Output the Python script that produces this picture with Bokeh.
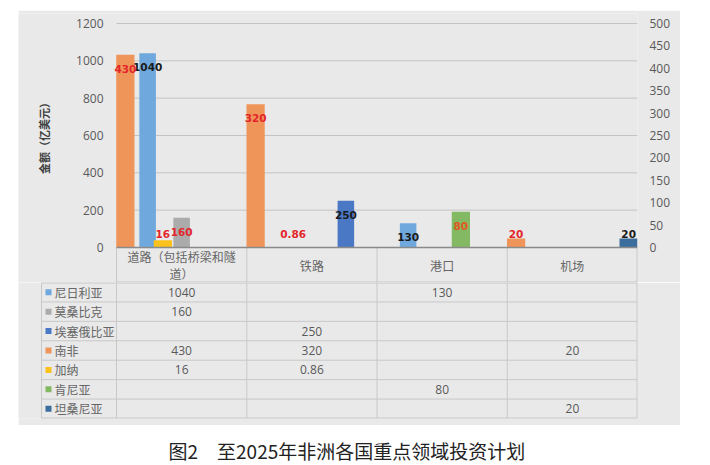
import math
from bokeh.plotting import figure
from bokeh.models import Range1d, LinearAxis, FixedTicker, ColumnDataSource, LabelSet
from bokeh.layouts import column
from bokeh.embed import file_html
from bokeh.resources import INLINE
from bokeh.core.properties import value

# ---------------- data ----------------
categories = ["道路（包括桥梁和隧道）", "铁路", "港口", "机场"]
countries = ["尼日利亚", "莫桑比克", "埃塞俄比亚", "南非", "加纳", "肯尼亚", "坦桑尼亚"]
nigeria = [1040, None, 130, None]
mozambique = [160, None, None, None]
ethiopia = [None, 250, None, None]
south_africa = [430, 320, None, 20]
ghana = [16, 0.86, None, None]
kenya = [None, None, 80, None]
tanzania = [None, None, None, 20]
left_ticks = [0, 200, 400, 600, 800, 1000, 1200]
right_ticks = [0, 50, 100, 150, 200, 250, 300, 350, 400, 450, 500]
y_title = "金额（亿美元）"
caption = "图2\u3000至2025年非洲各国重点领域投资计划"

series_values = [nigeria, mozambique, ethiopia, south_africa, ghana, kenya, tanzania]
# which axis each series uses (left = primary, right = secondary)
series_axis = ["left", "left", "left", "right", "right", "right", "right"]

# ---------------- style ----------------
bar_colors = ["#6fa8dc", "#ababab", "#4b78c4", "#f0955a", "#fbc21c", "#84b964", "#3b6e9c"]
label_colors = ["#1a1a1a", "#e3262b", "#1a1a1a", "#e3262b", "#e3262b", "#e2571e", "#1a1a1a"]
BG = "#e9e9e9"
GRID = "#c3c3c3"
LINE = "#c8c8c8"
TXT = "#595959"
CJK = "Noto Sans CJK SC"
NUMF = "Open Sans"

W = 662
RB = 43            # right border (right axis)
CHART_H = 224      # px for the value area
TOP_PAD = 10       # px of frame above the top tick
HEADER_H = 35      # px for the category header row
FRAME_W = 521      # px of the category area
LEG_W = 75         # px of legend column
AX_W = 98          # px left of category area
ncat = len(categories)
PPU = FRAME_W / ncat
XMIN = -AX_W / PPU

LMAX = left_ticks[-1]
RMAX = right_ticks[-1]
lmin = -HEADER_H * LMAX / CHART_H
rmin = -HEADER_H * RMAX / CHART_H
ltop = LMAX + TOP_PAD * LMAX / CHART_H
rtop = RMAX + TOP_PAD * RMAX / CHART_H

group_spacing = {"left": 0.261, "right": 0.288}
group_width = {"left": 0.127, "right": 0.14}


def fmt(v):
    return f"{v:g}"


def wrap(s, n=9):
    return s if len(s) <= n else s[:n] + "\n" + s[n:]


def base_fig(height, xr, yr, top_b=0, bottom_b=0, bg=BG):
    f = figure(width=W, height=height, x_range=xr, y_range=yr, output_backend="svg",
               toolbar_location=None, x_axis_location=None, y_axis_location=None,
               min_border_left=0, min_border_right=RB, min_border_top=top_b, min_border_bottom=bottom_b)
    f.background_fill_color = bg
    f.border_fill_color = bg
    f.outline_line_color = None
    f.grid.visible = False
    return f


# ---------------- chart figure ----------------
top = base_fig(272, Range1d(XMIN, ncat), Range1d(lmin, ltop), top_b=13 - TOP_PAD)
top.extra_y_ranges = {"right": Range1d(rmin, rtop)}

lax = LinearAxis(ticker=FixedTicker(ticks=left_ticks), fixed_location=0)
rax = LinearAxis(y_range_name="right", ticker=FixedTicker(ticks=right_ticks))
for ax, so in ((lax, 13), (rax, 12)):
    ax.axis_line_color = None
    ax.major_tick_line_color = None
    ax.minor_tick_line_color = None
    ax.major_tick_out = 0
    ax.major_tick_in = 0
    ax.major_label_standoff = so
    ax.major_label_text_font = NUMF
    ax.major_label_text_font_size = "12px"
    ax.major_label_text_color = TXT
top.add_layout(lax, "left")
top.add_layout(rax, "right")

# gridlines (left-axis ticks) across the category area
gt = left_ticks[1:]
top.segment(x0=[0] * len(gt), y0=gt, x1=[ncat] * len(gt), y1=gt, line_color=GRID, line_width=1)

# y title
top.text(x=[XMIN + 25 / PPU], y=[LMAX / 2], text=[y_title], angle=math.pi / 2,
         text_align="center", text_baseline="middle", text_font=value(CJK), text_font_size="11px",
         text_font_style="bold", text_color="#404040")

# header separators, header bottom line
top.segment(x0=list(range(ncat + 1)), y0=[lmin] * (ncat + 1), x1=list(range(ncat + 1)), y1=[0] * (ncat + 1),
            line_color=LINE, line_width=[1] * ncat + [2])
top.segment(x0=[0], y0=[lmin], x1=[ncat], y1=[lmin], line_color=LINE, line_width=2)

# bars + labels
for g in ["left", "right"]:
    members = [k for k, a in enumerate(series_axis) if a == g]
    n = len(members)
    lx, ly, lt_, lc, lo = [], [], [], [], []
    amax = LMAX if g == "left" else RMAX
    rng = "default" if g == "left" else "right"
    for j, k in enumerate(members):
        off = (j - (n - 1) / 2) * group_spacing[g]
        xs = [i + 0.5 + off for i, v in enumerate(series_values[k]) if v is not None]
        ys = [v for v in series_values[k] if v is not None]
        top.vbar(x=xs, top=ys, width=group_width[g], fill_color=bar_colors[k], line_color=None,
                 y_range_name=rng)
        for x, v in zip(xs, ys):
            hpx = v / amax * CHART_H
            lx.append(x)
            lt_.append(fmt(v))
            lc.append(label_colors[k])
            if hpx > 20:
                ly.append(v)
                lo.append(-14)
            else:
                ly.append(0)
                lo.append(14)
    src = ColumnDataSource(dict(x=lx, y=ly, t=lt_, c=lc, o=lo))
    top.add_layout(LabelSet(x="x", y="y", text="t", source=src, y_offset="o", y_range_name=rng,
                            text_color="c", text_align="center", text_baseline="middle",
                            text_font=value("DejaVu Sans"), text_font_size="10.5px",
                            text_font_style="bold"))

# dark baseline
top.segment(x0=[0], y0=[0], x1=[ncat], y1=[0], line_color="#8a8a8a", line_width=1.6)

top.text(x=[i + 0.5 for i in range(ncat)], y=[lmin / 2] * ncat, text=[wrap(c) for c in categories],
         text_align="center", text_baseline="middle", text_font=value(CJK), text_font_size="12px",
         text_color="#666666", text_line_height=1.0)

# ---------------- table figure ----------------
nrows = len(countries)
lx0 = -LEG_W / PPU
tbl = base_fig(143, Range1d(XMIN, ncat), Range1d(-nrows, 0), bottom_b=7)

hy = [-r for r in range(nrows + 1)]
tbl.segment(x0=[lx0] * len(hy), y0=hy, x1=[ncat] * len(hy), y1=hy, line_color=LINE,
            line_width=[2] + [1] * (nrows - 1) + [2])
vx = [lx0] + list(range(ncat + 1))
tbl.segment(x0=vx, y0=[-nrows] * len(vx), x1=vx, y1=[0] * len(vx), line_color=LINE,
            line_width=[1] * (ncat + 1) + [2])

tbl.scatter(x=[lx0 + 7 / PPU] * nrows, y=[-(r + 0.5) for r in range(nrows)], marker="square", size=6,
            fill_color=bar_colors, line_color=None)
tbl.text(x=[lx0 + 13 / PPU] * nrows, y=[-(r + 0.5) for r in range(nrows)], text=countries,
         text_align="left", text_baseline="middle", text_font=value(CJK), text_font_size="12px",
         text_color="#666666")

vx_, vy_, vt_ = [], [], []
for r, vals in enumerate(series_values):
    for i, v in enumerate(vals):
        if v is not None:
            vx_.append(i + 0.5)
            vy_.append(-(r + 0.5))
            vt_.append(fmt(v))
tbl.text(x=vx_, y=vy_, text=vt_, text_align="center", text_baseline="middle",
         text_font=value(NUMF), text_font_size="12px", text_color=TXT)

# ---------------- caption ----------------
cap = base_fig(40, Range1d(0, W - RB), Range1d(0, 40), bg="white")
cap.text(x=[150], y=[15], text=[caption], text_align="left", text_baseline="middle",
         text_font=value(CJK), text_font_size="19px", text_color="#222222")

layout = column(top, tbl, cap, spacing=0, margin=(10, 0, 0, 18))

open("out.html", "w").write(file_html(layout, INLINE))
